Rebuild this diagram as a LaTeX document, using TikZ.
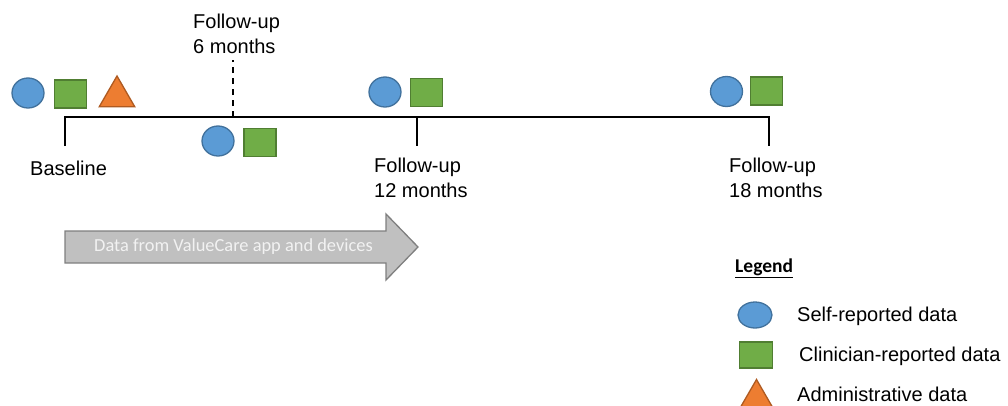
\documentclass[tikz,border=0pt]{standalone}
\usepackage{fontspec}
\setmainfont{Liberation Sans}
\newfontfamily\calfont{Carlito}
\usetikzlibrary{shapes.geometric}
\definecolor{cblue}{HTML}{5B9BD5}
\definecolor{cblueb}{HTML}{41719C}
\definecolor{cgreen}{HTML}{70AD47}
\definecolor{cgreenb}{HTML}{507E32}
\definecolor{corange}{HTML}{ED7D31}
\definecolor{coranb}{HTML}{AE5A21}
\definecolor{arrfill}{HTML}{C0C0C0}
\definecolor{arrline}{HTML}{7F7F7F}
\tikzset{
  selfrep/.style={ellipse, draw=cblueb, fill=cblue, line width=1.3pt, minimum width=32pt, minimum height=30pt, inner sep=0pt},
  clinrep/.style={rectangle, draw=cgreenb, fill=cgreen, line width=1.3pt, minimum width=32pt, minimum height=28pt, inner sep=0pt},
  admin/.style={regular polygon, regular polygon sides=3, draw=coranb, fill=corange, line width=1.3pt, minimum size=41pt, inner sep=0pt},
  lbl/.style={font=\fontsize{20}{25}\selectfont, align=left, inner sep=0pt, anchor=west},
  tline/.style={line width=2pt, black},
}
\begin{document}
\begin{tikzpicture}[x=1pt,y=-1pt]
\useasboundingbox (0,0) rectangle (1008,405);
\clip (0,0) rectangle (1008,405);
% timeline
\coordinate (t0) at (65,117);
\coordinate (t0b) at (65,146);
\coordinate (t6) at (233,117);
\coordinate (t6t) at (233,60);
\coordinate (t12) at (417,117);
\coordinate (t12b) at (417,146);
\coordinate (t18) at (769,117);
\coordinate (t18b) at (769,146);
\draw[tline] (t0b) -- (t0) -- (t18) -- (t18b);
\draw[tline] (t12) -- (t12b);
\draw[tline, dash pattern=on 6pt off 5pt] (t6) -- (t6t);
% labels
\node[lbl] (l6) at (193,34) {Follow-up\\6 months};
\node[lbl] (l0) at (30,168) {Baseline};
\node[lbl] (l12) at (374,178) {Follow-up\\12 months};
\node[lbl] (l18) at (729,178) {Follow-up\\18 months};
% shapes baseline
\node[selfrep] (b0c) at (28,93) {};
\node[clinrep] (b0s) at (70.5,94) {};
\node[admin] (b0t) at (117,96.5) {};
% 6 months
\node[selfrep] (b6c) at (218,141) {};
\node[clinrep] (b6s) at (260,142.5) {};
% 12 months
\node[selfrep] (b12c) at (385,92) {};
\node[clinrep] (b12s) at (426.5,92.5) {};
% 18 months
\node[selfrep] (b18c) at (726.5,91.5) {};
\node[clinrep] (b18s) at (766.5,91) {};
% arrow
\draw[draw=arrline, fill=arrfill, line width=1.3pt] (65,231) -- (386,231) -- (386,214) -- (418,247) -- (386,280) -- (386,263) -- (65,263) -- cycle;
\node[font=\calfont\fontsize{18.4}{22}\selectfont, text=white!95!black, inner sep=0pt] (arrtxt) at (233.5,247) {Data from ValueCare app and devices};
% legend
\node[font=\calfont\bfseries\fontsize{19.5}{23}\selectfont, inner sep=0pt, anchor=west] (leg) at (735,268) {\underline{Legend}};
\node[selfrep, minimum width=34pt, minimum height=26pt] (lc) at (755,315) {};
\node[clinrep, minimum width=33pt, minimum height=26pt] (ls) at (756,355) {};
\node[admin] (lt) at (756.5,400) {};
\node[lbl] (lct) at (797,316) {Self-reported data};
\node[lbl] (lst) at (799,356) {Clinician-reported data};
\node[lbl] (ltt) at (797,394) {Administrative data};
\end{tikzpicture}
\end{document}
